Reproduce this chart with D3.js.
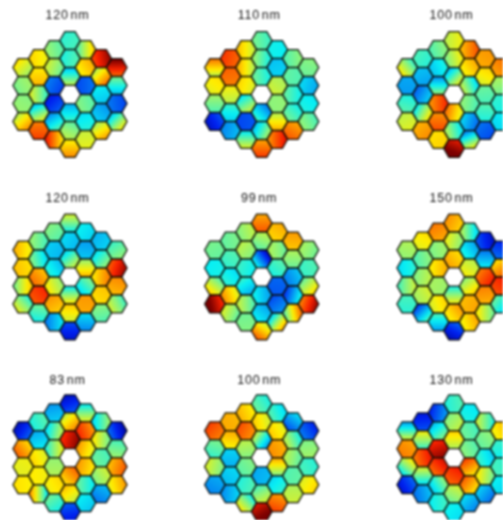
<!DOCTYPE html>
<html><head><meta charset="utf-8">
<script src="https://cdn.jsdelivr.net/npm/d3@7"></script>
<style>html,body{margin:0;padding:0;background:#fff;overflow:hidden}svg{display:block}</style>
</head><body><svg id="c" width="503" height="520"></svg>
<script>
// Each segment: value (0..1 on the jet scale) or [value, change to the right, change downward]
// Order: column -3..3, top to bottom, central hole omitted.
const titles = ["120 nm","110 nm","100 nm","120 nm","99 nm","150 nm","83 nm","100 nm","130 nm"];
const columnCounts = [4,5,6,6,6,5,4];
const panelXs = [70,261.7,454];
const panelYs = [94.5,277,457.7];
const titleYs = [19,202,384];

const seg1 = [[.58,-.05,-.05],.5,.5,[.64,.08,.09], .63,[.66,0,.04],[.5,-.1,0],[.46,.06,.15],[.8,0,.05],
 .48,.52,[.2,-.04,-.02],[.15,.04,.04],[.35,.06,.1],[.76,-.16,0], .42,.42,[.43,0,.14],[.36,0,.08],.5,[.68,0,.08],
 [.55,.14,0],[.66,.05,-.03],[.2,.03,0],.47,.38,.58, .9,[.66,.1,.1],.35,.3,[.62,.06,.1], [.9,0,-.14],[.4,0,-.1],.2,[.47,.12,.12]];
const seg2 = [[.66,0,-.14],.62,.48,.13, .82,.78,.58,.38,.28,
 [.62,-.08,0],.62,.62,[.46,.06,.1],.18,[.47,0,.14], .45,.45,.43,[.33,-.08,.08],.42,[.78,0,.08],
 .38,.33,.55,.5,[.62,0,.1],[.82,.1,0], .47,.45,.42,.43,.76, .48,.32,.38,.47];
const seg3 = [[.52,-.1,.08],.28,.42,.57, .42,.3,.27,[.5,.14,.08],.72,
 .47,.36,[.38,0,.15],[.8,.08,0],[.78,0,.05],.65, .58,.55,[.45,.12,.12],.68,.45,.97,
 [.75,.08,0],.66,[.45,-.12,.05],.47,.28,[.42,.08,.2], .72,.62,.45,.42,.2, .75,.5,.4,.36];
const seg4 = [.65,.66,[.58,.12,0],[.5,-.08,.08], .47,.42,.73,.84,.43,
 .47,.32,.36,.57,.7,[.3,.08,0], [.48,0,-.12],.33,[.45,.08,.1],[.5,0,.16],.62,.13,
 .36,.3,[.6,0,.12],[.42,.06,-.06],.72,.3, .32,.43,.7,.66,.47, .46,.88,.72,[.5,-.08,.04]];
const seg5 = [.47,.38,[.55,-.08,.1],.95, .47,.43,.38,.66,.52,
 .52,.52,.4,[.36,-.04,-.06],.5,.48, [.76,0,.06],.5,[.22,-.16,.12],.33,.33,[.68,-.08,.12],
 .68,[.5,-.04,0],.42,.2,.22,[.52,.18,.14], .7,.5,.28,.27,[.62,.2,-.04], .5,.43,[.55,.08,.08],.86];
const seg6 = [.52,.38,[.5,.08,0],.42, .62,.47,.52,.55,[.3,.12,.12],
 .74,.5,.66,.52,.62,[.36,0,-.1], .7,.55,.68,[.5,0,.14],.67,.13,
 [.44,-.12,0],[.34,-.06,.04],.58,[.58,.06,.08],.7,.66, .13,.3,.82,.73,[.55,-.1,0], .17,.72,.85,.4];
const seg7 = [.13,.72,.6,.63, .42,.33,.62,.62,[.55,-.22,0],
 .3,.45,[.5,.12,0],.52,.63,.43, .13,.65,.92,[.72,.06,-.06],.62,.15,
 [.48,0,.14],.8,.66,.68,[.42,-.06,0],.35, [.43,.1,0],[.55,-.1,0],.45,.53,.27, .13,.47,.74,.66];
const seg8 = [.8,.45,.53,.27, .7,.66,.32,.33,.3,
 .66,.78,.52,.47,.42,[.5,-.1,.1], .43,.62,[.42,-.14,-.1],.3,.5,.97,
 .4,.63,.72,[.6,0,-.14],.38,.78, [.27,.06,-.08],.47,.5,.45,.55, .18,.5,.42,.62];
const seg9 = [[.42,0,.18],.74,[.5,.1,-.12],.15, .14,[.52,0,-.12],.83,[.47,0,-.14],.27,
 .2,.4,.92,.85,.42,.4, .42,.52,[.6,0,-.08],.84,.52,.37,
 .38,.45,.47,[.74,-.06,-.1],.72,.3, [.48,-.1,0],.48,.38,.55,.28, .65,.4,.42,.36];
const panels = [seg1,seg2,seg3,seg4,seg5,seg6,seg7,seg8,seg9];

const jet = d3.scaleLinear()
  .domain([0,.125,.375,.5,.625,.875,1])
  .range(["#00008a","#0020f0","#08f0f4","#90f478","#ffee00","#f82000","#7a0000"])
  .clamp(true);
const R = 10.3;
const xOff = d3.scaleLinear().domain([-3,3]).range([-46.8,46.8]);
const yOff = d3.scaleLinear().domain([-6,6]).range([-54,54]); // half-rows
const hexPts = d3.range(6).map(a=>[R*Math.cos(a*Math.PI/3),R*Math.sin(a*Math.PI/3)]);
const hexPath = d3.line()(hexPts)+"Z";
const SMOOTH = 0.22;

const svg = d3.select("#c").style("filter","blur(0.85px)");
const defs = svg.append("defs");
const root = svg.append("g");

panels.forEach((seg,pi)=>{
  const cx = panelXs[pi%3], cy = panelYs[Math.floor(pi/3)];
  root.append("text").attr("x",cx-2.5).attr("y",titleYs[Math.floor(pi/3)])
    .attr("text-anchor","middle").attr("fill","#111").attr("font-family","Liberation Sans, Arial, sans-serif")
    .attr("font-size",12.5).style("letter-spacing",".8px").style("word-spacing","-2.5px").text(titles[pi]);
  const cells=[]; let k=0;
  columnCounts.forEach((n,ci)=>{
    const col=ci-3, total=7-Math.abs(col);
    d3.range(total).forEach(r=>{
      const half=2*r-(total-1);
      if(col===0&&half===0) return;
      const s=seg[k++];
      const [v,tx,ty]=Array.isArray(s)?s:[s,null,null];
      cells.push({col,half,v,tx,ty});
    });
  });
  const g=root.append("g").attr("transform",`translate(${cx},${cy})`);
  cells.forEach((c,k)=>{
    const x=xOff(c.col), y=yOff(c.half);
    let dx=c.tx, dy=c.ty;
    if(dx===null){ // soft slope toward the neighbouring segments
      dx=0;dy=0;
      cells.forEach(o=>{
        const a=o.col-c.col,b=o.half-c.half;
        if(Math.abs(a)<=1&&Math.abs(b)<=2&&(a||b)&&Math.abs(a)+Math.abs(b)<=2){
          dx+=(o.v-c.v)*a/1.5; dy+=(o.v-c.v)*b/2/3*1.15;
        }
      });
      dx*=SMOOTH; dy*=SMOOTH;
    }
    const m=Math.hypot(dx,dy), id=`g${pi}_${k}`;
    let fill=jet(c.v);
    if(m>0){
      const ux=dx/m, uy=dy/m;
      const lg=defs.append("linearGradient").attr("id",id).attr("gradientUnits","userSpaceOnUse")
        .attr("x1",-ux*R).attr("y1",-uy*R).attr("x2",ux*R).attr("y2",uy*R);
      d3.range(9).forEach(i=>{const t=i/8;
        lg.append("stop").attr("offset",t).attr("stop-color",jet(c.v+m*(2*t-1)));});
      fill=`url(#${id})`;
    }
    g.append("path").attr("d",hexPath).attr("transform",`translate(${x},${y})`)
      .attr("fill",fill).attr("stroke","#0c0c08").attr("stroke-width",1.2);
  });
});
</script></body></html>
